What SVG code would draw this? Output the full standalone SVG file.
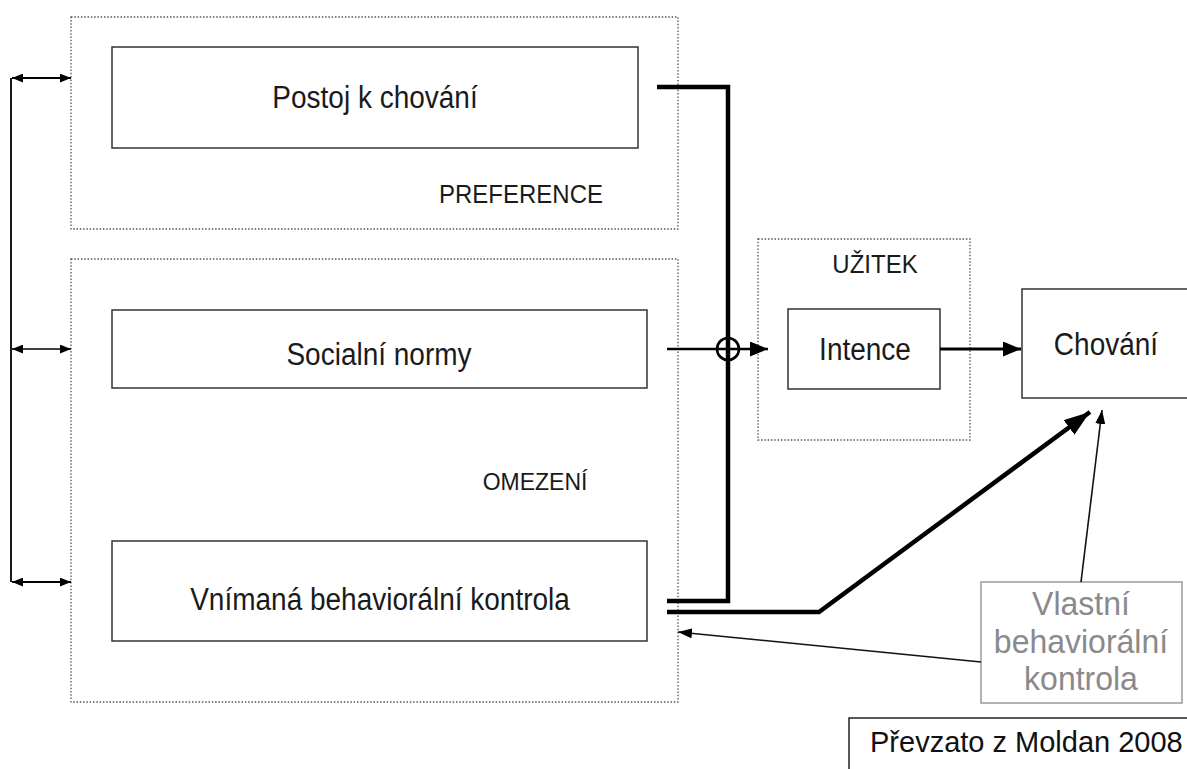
<svg xmlns="http://www.w3.org/2000/svg" width="1187" height="769" viewBox="0 0 1187 769">
<style>
.dot{fill:none;stroke:#555;stroke-width:1.3;stroke-dasharray:1.5 1.8}
.box{fill:#fff;stroke:#333;stroke-width:1.5}
.t{font-family:"Liberation Sans",Arial,sans-serif;fill:#1a1a1a;text-anchor:middle}
.big{font-size:28px}
.lab{font-size:24px}
.thick{fill:none;stroke:#000;stroke-width:4.5}
.thin{fill:none;stroke:#111;stroke-width:1.6}
</style>
<defs>
<marker id="sm" viewBox="0 0 10 8" refX="10" refY="4" markerWidth="11" markerHeight="9" markerUnits="userSpaceOnUse" orient="auto-start-reverse"><path d="M0,0L10,4L0,8z" fill="#000"/></marker>
<marker id="mid" viewBox="0 0 18 15" refX="18" refY="7.5" markerWidth="18" markerHeight="15" markerUnits="userSpaceOnUse" orient="auto"><path d="M0,0L18,7.5L0,15z" fill="#000"/></marker>
<marker id="lg" viewBox="0 0 26 18" refX="26" refY="9" markerWidth="26" markerHeight="18" markerUnits="userSpaceOnUse" orient="auto"><path d="M0,0L26,9L0,18z" fill="#000"/></marker>
<marker id="tn" viewBox="0 0 14 10" refX="14" refY="5" markerWidth="14" markerHeight="10" markerUnits="userSpaceOnUse" orient="auto"><path d="M0,0L14,5L0,10z" fill="#000"/></marker>
</defs>
<rect width="1187" height="769" fill="#fff"/>

<g id="preference">
<rect class="dot" x="71" y="17" width="607" height="212"/>
<text class="t lab" transform="translate(521,203) scale(1,1.08)">PREFERENCE</text>
</g>
<g id="omezeni">
<rect class="dot" x="71" y="259" width="607" height="443"/>
<text class="t" style="font-size:23px" transform="translate(535,490) scale(1,1.08)">OMEZENÍ</text>
</g>
<g id="uzitek">
<rect class="dot" x="758" y="239" width="212" height="201"/>
<text class="t lab" transform="translate(875,273) scale(1,1.08)">UŽITEK</text>
</g>

<g id="postoj">
<rect class="box" x="112" y="47" width="526" height="101"/>
<text class="t big" transform="translate(375,108) scale(1,1.1)">Postoj k chování</text>
</g>
<g id="socialni">
<rect class="box" x="112" y="310" width="535" height="78"/>
<text class="t big" transform="translate(379,365) scale(1,1.1)">Socialní normy</text>
</g>
<g id="vnimana">
<rect class="box" x="112" y="541" width="535" height="100"/>
<text class="t big" transform="translate(380,610) scale(1,1.1)">Vnímaná behaviorální kontrola</text>
</g>
<g id="intence">
<rect class="box" x="788" y="309" width="152" height="80"/>
<text class="t big" transform="translate(865,360) scale(1,1.1)">Intence</text>
</g>
<g id="chovani">
<rect class="box" x="1022" y="289" width="170" height="109"/>
<text class="t big" transform="translate(1106,355) scale(1,1.1)">Chování</text>
</g>
<g id="vlastni">
<rect x="981" y="582" width="201" height="121" fill="#fff" stroke="#999" stroke-width="1.5"/>
<text class="t" style="font-size:32px;fill:#8a8a8a" transform="translate(1081,615) scale(1,1.06)">Vlastní</text>
<text class="t" style="font-size:32px;fill:#8a8a8a" transform="translate(1081,653) scale(1,1.06)">behaviorální</text>
<text class="t" style="font-size:32px;fill:#8a8a8a" transform="translate(1081,690) scale(1,1.06)">kontrola</text>
</g>
<g id="zdroj">
<rect x="849" y="718" width="345" height="60" fill="#fff" stroke="#222" stroke-width="1.5"/>
<text x="870" y="752" style="font-family:'Liberation Sans',Arial,sans-serif;font-size:29px;fill:#111">Převzato z Moldan 2008</text>
</g>

<g id="connectors">
<line x1="11" y1="78" x2="11" y2="582" stroke="#000" stroke-width="1.8"/>
<line x1="12" y1="78" x2="71" y2="78" stroke="#000" stroke-width="2.2" marker-start="url(#sm)" marker-end="url(#sm)"/>
<line x1="12" y1="349" x2="71" y2="349" stroke="#000" stroke-width="1.5" marker-start="url(#sm)" marker-end="url(#sm)"/>
<line x1="12" y1="582" x2="71" y2="582" stroke="#000" stroke-width="2.2" marker-start="url(#sm)" marker-end="url(#sm)"/>
<path class="thick" d="M657,87H728V601H667"/>
<line x1="667" y1="349" x2="768" y2="349" stroke="#000" stroke-width="2.6" marker-end="url(#mid)"/>
<circle cx="728" cy="349" r="11" fill="none" stroke="#000" stroke-width="2.6"/>
<line x1="940" y1="349" x2="1021" y2="349" stroke="#000" stroke-width="3" marker-end="url(#mid)"/>
<path class="thick" d="M667,612H819L1090,412" marker-end="url(#lg)"/>
<line class="thin" x1="1081" y1="582" x2="1102" y2="410" marker-end="url(#tn)"/>
<line class="thin" x1="981" y1="662" x2="678" y2="632" marker-end="url(#tn)"/>
</g>
</svg>
